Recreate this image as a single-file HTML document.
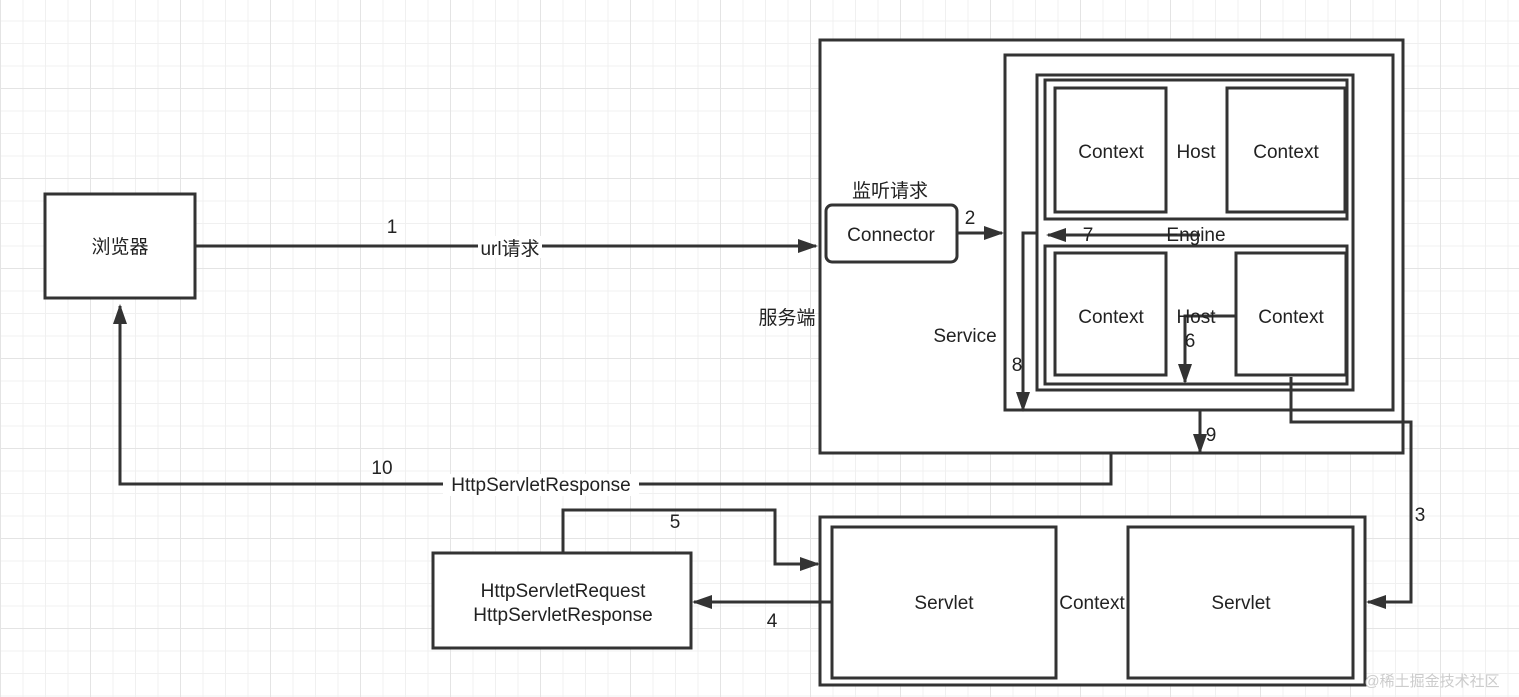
<!DOCTYPE html>
<html><head><meta charset="utf-8"><style>
html,body{margin:0;padding:0;}
body{width:1519px;height:697px;overflow:hidden;background:#fff;
background-image:linear-gradient(#e4e4e4 1px,transparent 1px),linear-gradient(90deg,#e4e4e4 1px,transparent 1px),linear-gradient(#f0f0f0 1px,transparent 1px),linear-gradient(90deg,#f0f0f0 1px,transparent 1px);
background-size:90px 90px,90px 90px,22.5px 22.5px,22.5px 22.5px;background-position:0 -2px,0 0,0 -2px,0 0;}
svg{position:absolute;left:0;top:0}
text{font-family:"Liberation Sans","Noto Sans CJK SC",sans-serif;font-size:19px;fill:#222}
</style></head><body>
<svg width="1519" height="697" viewBox="0 0 1519 697">
<defs><marker id="a" markerWidth="10" markerHeight="10" refX="9" refY="5" orient="auto" markerUnits="userSpaceOnUse"><path d="M0,0 L10,5 L0,10 z" fill="#333"/></marker>
<marker id="b" markerWidth="20" markerHeight="14" refX="18" refY="7" orient="auto" markerUnits="userSpaceOnUse"><path d="M0,0 L20,7 L0,14 z" fill="#333"/></marker></defs>
<g fill="#fff" stroke="#333" stroke-width="3">
<rect x="45" y="194" width="150" height="104"/>
<rect x="820" y="40" width="583" height="413"/>
<rect x="1005" y="55" width="388" height="355"/>
<rect x="1037" y="75" width="316" height="315"/>
<rect x="1045" y="80" width="302" height="139"/>
<rect x="1055" y="88" width="111" height="124"/>
<rect x="1227" y="88" width="118" height="124"/>
<rect x="1045" y="246" width="302" height="138"/>
<rect x="1055" y="253" width="111" height="122"/>
<rect x="1236" y="253" width="110" height="122"/>
<rect x="826" y="205" width="131" height="57" rx="6"/>
<rect x="433" y="553" width="258" height="95"/>
<rect x="820" y="517" width="545" height="168"/>
<rect x="832" y="527" width="224" height="151"/>
<rect x="1128" y="527" width="225" height="151"/>
</g>
<g fill="none" stroke="#333" stroke-width="3">
<path d="M195,246 H816" marker-end="url(#b)"/>
<path d="M957,233 H1002" marker-end="url(#b)"/>
<path d="M1200,235 H1048" marker-end="url(#b)"/>
<path d="M1037,233 H1023 V410" marker-end="url(#b)"/>
<path d="M1236,316 H1185 V382" marker-end="url(#b)"/>
<path d="M1200,410 V452" marker-end="url(#b)"/>
<path d="M1291,377 V422 H1411 V602 H1368" marker-end="url(#b)"/>
<path d="M1111,453 V484 H120 V306" marker-end="url(#b)"/>
<path d="M563,553 V510 H775 V564 H818" marker-end="url(#b)"/>
<path d="M832,602 H694" marker-end="url(#b)"/>
</g>
<g text-anchor="middle">
<rect x="478" y="236" width="64" height="22" fill="#fff"/>
<text x="120" y="253">浏览器</text>
<text x="392" y="233">1</text>
<text x="510" y="255">url请求</text>
<text x="890" y="197">监听请求</text>
<text x="891" y="241">Connector</text>
<text x="970" y="224">2</text>
<text x="787" y="324">服务端</text>
<text x="965" y="342">Service</text>
<text x="1111" y="158">Context</text>
<text x="1196" y="158">Host</text>
<text x="1286" y="158">Context</text>
<text x="1111" y="323">Context</text>
<text x="1196" y="323">Host</text>
<text x="1291" y="323">Context</text>
<text x="1088" y="241">7</text>
<text x="1196" y="241">Engine</text>
<text x="1190" y="347">6</text>
<text x="1017" y="371">8</text>
<text x="1211" y="441">9</text>
<text x="382" y="474">10</text>
<rect x="443" y="474" width="196" height="22" fill="#fff"/>
<text x="541" y="491">HttpServletResponse</text>
<text x="675" y="528">5</text>
<text x="563" y="597">HttpServletRequest</text>
<text x="563" y="621">HttpServletResponse</text>
<text x="772" y="627">4</text>
<text x="944" y="609">Servlet</text>
<text x="1092" y="609">Context</text>
<text x="1241" y="609">Servlet</text>
<text x="1420" y="521">3</text>
<text x="1432" y="686" style="font-size:15px;fill:#ccc">@稀土掘金技术社区</text>
</g>
</svg>
</body></html>
